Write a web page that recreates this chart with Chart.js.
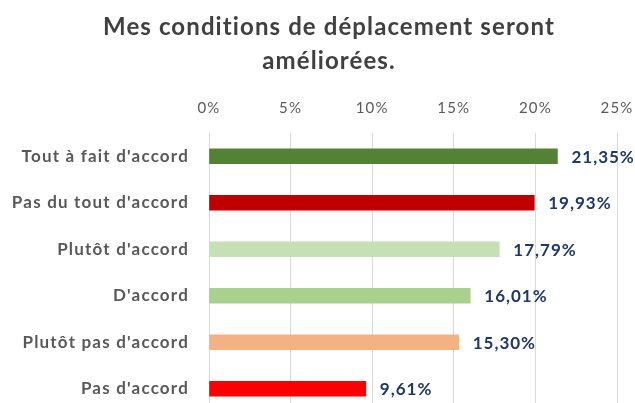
<!DOCTYPE html>
<html>
<head>
<meta charset="utf-8">
<script src="https://cdn.jsdelivr.net/npm/chart.js@4"></script>
<style>
  html, body { margin: 0; padding: 0; background: #fff; overflow: hidden; }
  #wrap { width: 635px; height: 412px; }
</style>
</head>
<body>
<div id="wrap"><canvas id="c" width="635" height="412"></canvas></div>
<script>
// Answers to "Mes conditions de déplacement seront améliorées." (share of respondents, %)
const titleLines = ["Mes conditions de déplacement seront", "améliorées."];
const categories = [
  "Tout à fait d'accord",
  "Pas du tout d'accord",
  "Plutôt d'accord",
  "D'accord",
  "Plutôt pas d'accord",
  "Pas d'accord"
];
const values = [21.35, 19.93, 17.79, 16.01, 15.30, 9.61];
const barColors = ["#548235", "#C00000", "#C5E0B4", "#A9D18E", "#F4B183", "#FF0000"];
const xTicks = [0, 5, 10, 15, 20, 25];

const FONT = "Lato, 'Liberation Sans', sans-serif";

const fmt = v => v.toFixed(2).replace('.', ',') + '%';

// Two-line heading, centred a little right of the canvas middle
const heading = {
  id: 'heading',
  beforeDraw(chart) {
    const ctx = chart.ctx;
    ctx.save();
    ctx.letterSpacing = '1.1px';
    ctx.font = "bold 24px " + FONT;
    ctx.fillStyle = "#404040";
    ctx.textAlign = "center";
    ctx.textBaseline = "middle";
    titleLines.forEach((line, i) => ctx.fillText(line, 329, 27 + i * 34.5));
    ctx.restore();
    // slight letter spacing for the axis labels drawn next
    ctx.letterSpacing = '1.2px';
  },
  afterDraw(chart) { chart.ctx.letterSpacing = '0px'; }
};

// Value labels written just past the end of each bar
const valueLabels = {
  id: 'valueLabels',
  afterDatasetsDraw(chart) {
    const ctx = chart.ctx;
    const meta = chart.getDatasetMeta(0);
    ctx.save();
    ctx.letterSpacing = '1px';
    ctx.font = "bold 17px " + FONT;
    ctx.fillStyle = "#1F3864";
    ctx.textAlign = "left";
    ctx.textBaseline = "middle";
    meta.data.forEach((bar, i) => {
      ctx.fillText(fmt(values[i]), bar.x + 14, bar.y + 1);
    });
    ctx.restore();
  }
};

new Chart(document.getElementById('c'), {
  type: 'bar',
  data: {
    labels: categories,
    datasets: [{
      data: values,
      backgroundColor: barColors,
      borderWidth: 0,
      barThickness: 15
    }]
  },
  options: {
    indexAxis: 'y',
    responsive: false,
    animation: false,
    layout: { padding: { left: 0, right: 0, top: 78, bottom: 0 } },
    plugins: {
      legend: { display: false },
      tooltip: { enabled: false },
      title: { display: false }
    },
    scales: {
      x: {
        position: 'top',
        min: 0,
        max: 25,
        afterBuildTicks(scale) { scale.ticks = xTicks.map(v => ({ value: v })); },
        afterFit(scale) {
          scale.height = 55;
          scale.paddingLeft = 0;
          scale.paddingRight = 18;
        },
        ticks: {
          callback: v => v + '%',
          color: "#595959",
          font: { family: FONT, size: 15 },
          padding: 16,
          maxRotation: 0
        },
        grid: { color: "#D9D9D9", drawTicks: false, lineWidth: 1 },
        border: { display: false }
      },
      y: {
        afterFit(scale) {
          scale.width = 209;
          scale.paddingTop = 0;
          scale.paddingBottom = 0;
        },
        ticks: {
          color: "#595959",
          font: { family: FONT, size: 17, weight: 'bold' },
          padding: 20
        },
        grid: { display: false, drawTicks: false },
        border: { display: false }
      }
    }
  },
  plugins: [heading, valueLabels]
});
</script>
</body>
</html>
